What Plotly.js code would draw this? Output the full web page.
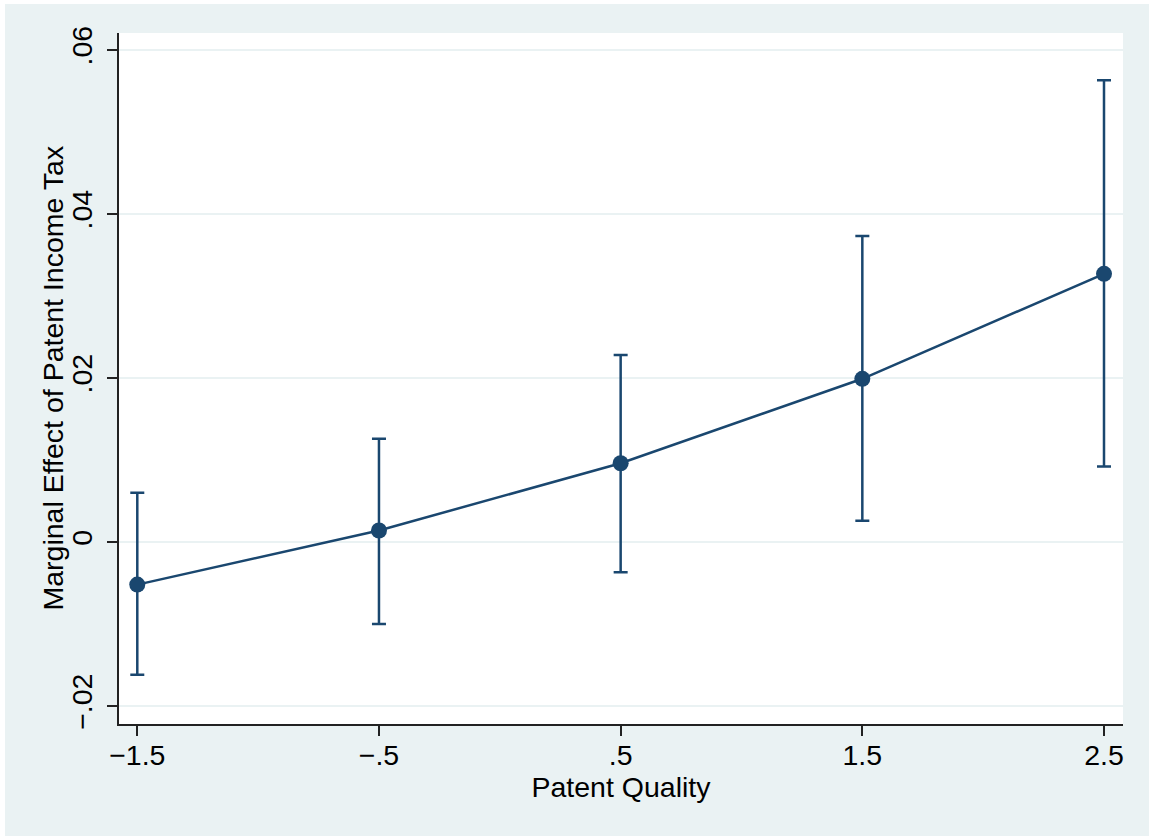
<!DOCTYPE html>
<html>
<head>
<meta charset="utf-8">
<script src="https://cdn.plot.ly/plotly-3.0.1.min.js"></script>
<style>
  html, body { margin: 0; padding: 0; background: #ffffff; }
  #chart { position: absolute; left: 5px; top: 4px; width: 1144px; height: 832px; }
</style>
</head>
<body>
<div id="chart"></div>
<script>
// Data
const patentQuality = [-1.5, -0.5, 0.5, 1.5, 2.5];
const marginalEffect = [-0.0052, 0.0014, 0.0096, 0.0199, 0.0327];
const upperCI = [0.0060, 0.0126, 0.0228, 0.0373, 0.0563];
const lowerCI = [-0.0162, -0.0100, -0.0037, 0.0026, 0.0092];

const xTickVals = [-1.5, -0.5, 0.5, 1.5, 2.5];
const xTickText = ['\u22121.5', '\u2212.5', '.5', '1.5', '2.5'];
const yTickVals = [-0.02, 0, 0.02, 0.04, 0.06];
const yTickText = ['\u2212.02', '0', '.02', '.04', '.06'];

const xTitle = 'Patent Quality';
const yTitle = 'Marginal Effect of Patent Income Tax';

const navy = '#1a476f';
const errPlus = upperCI.map((u, i) => u - marginalEffect[i]);
const errMinus = lowerCI.map((l, i) => marginalEffect[i] - l);

const trace = {
  x: patentQuality,
  y: marginalEffect,
  type: 'scatter',
  mode: 'lines+markers',
  line: { color: navy, width: 2.5 },
  marker: { color: navy, size: 16 },
  error_y: {
    type: 'data',
    symmetric: false,
    array: errPlus,
    arrayminus: errMinus,
    color: navy,
    thickness: 2.5,
    width: 7
  },
  hoverinfo: 'x+y'
};

const fontFam = '"Liberation Sans", Arial, Helvetica, sans-serif';

const layout = {
  width: 1144,
  height: 832,
  paper_bgcolor: '#EAF2F3',
  plot_bgcolor: '#ffffff',
  showlegend: false,
  font: { family: fontFam, size: 28.5, color: '#000000' },
  margin: { l: 114, r: 26, t: 29, b: 112, pad: 0 },
  xaxis: {
    range: [-1.5757, 2.5786],
    tickmode: 'array',
    tickvals: xTickVals,
    ticktext: xTickText,
    ticks: 'outside',
    ticklen: 10,
    tickwidth: 1.5,
    tickcolor: '#222222',
    ticklabelstandoff: -5,
    showline: true,
    linecolor: '#222222',
    linewidth: 1.5,
    showgrid: false,
    zeroline: false,
    tickfont: { family: fontFam, size: 28.5, color: '#000000' },
    title: { text: xTitle, font: { family: fontFam, size: 28.5, color: '#000000' }, standoff: 2 }
  },
  yaxis: {
    range: [-0.0222, 0.06207],
    tickmode: 'array',
    tickvals: yTickVals,
    ticktext: yTickText,
    tickangle: -90,
    ticks: 'outside',
    ticklen: 10,
    tickwidth: 1.5,
    tickcolor: '#222222',
    ticklabelstandoff: 4,
    showline: true,
    linecolor: '#222222',
    linewidth: 1.5,
    showgrid: true,
    gridcolor: '#EAF2F3',
    gridwidth: 2,
    zeroline: false,
    tickfont: { family: fontFam, size: 28.5, color: '#000000' },
    title: { text: '' }
  },
  annotations: [{
    text: yTitle,
    xref: 'paper', yref: 'paper',
    x: -0.0667, y: 0.5,
    xanchor: 'center', yanchor: 'middle',
    textangle: -90,
    showarrow: false,
    font: { family: fontFam, size: 28.5, color: '#000000' }
  }]
};

Plotly.newPlot('chart', [trace], layout, { displayModeBar: false });
</script>
</body>
</html>
